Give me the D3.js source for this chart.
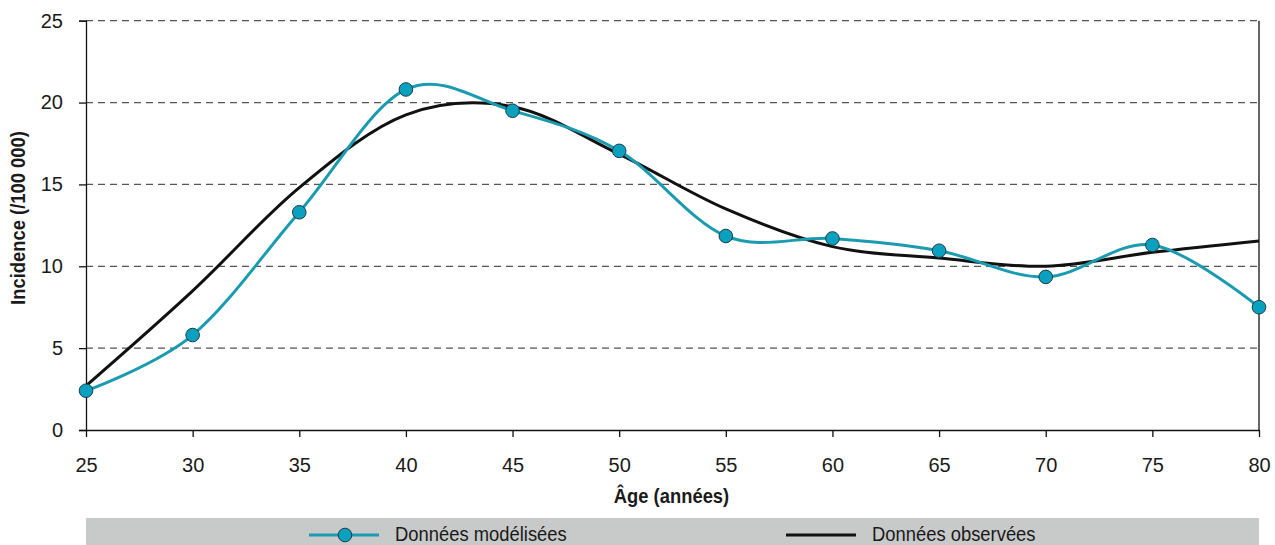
<!DOCTYPE html>
<html>
<head>
<meta charset="utf-8">
<script src="https://cdn.jsdelivr.net/npm/d3@7"></script>
<style>
  html, body { margin: 0; padding: 0; background: #fff; }
  svg { display: block; }
  text { font-family: "Liberation Sans Narrow", "Arial Narrow", "Liberation Sans", sans-serif; fill: #1a1a1a; }
</style>
</head>
<body>
<svg id="chart" width="1275" height="545"></svg>
<script>
// Age groups (years)
const ages = [25, 30, 35, 40, 45, 50, 55, 60, 65, 70, 75, 80];
// Incidence per 100 000: modelled series (with markers)
const modelled = [2.4, 5.8, 13.3, 20.8, 19.5, 17.05, 11.85, 11.7, 10.95, 9.35, 11.3, 7.5];
// Incidence per 100 000: observed series (plain line)
const observed = [2.7, 8.5, 14.8, 19.25, 19.75, 16.85, 13.5, 11.2, 10.5, 10.0, 10.85, 11.55];
const yTicks = [0, 5, 10, 15, 20, 25];
const xLabel = "Âge (années)";
const yLabel = "Incidence (/100 000)";
const seriesNames = ["Données modélisées", "Données observées"];

const teal = "#1a9bb0";
const markerFill = "#0aa0c0";
const squeeze = 0.92; // horizontal condensing of the label font

const svg = d3.select("#chart");
const plotLeft = 86, plotRight = 1259, plotTop = 20.7, plotBottom = 430;

const x = d3.scaleLinear().domain([25, 80]).range([plotLeft, plotRight]);
const y = d3.scaleLinear().domain([0, 25]).range([plotBottom, plotTop]);

// condensed text placed at (tx, ty)
function label(parent, tx, ty, str, opts = {}) {
  const t = parent.append("text")
    .attr("transform", `translate(${tx},${ty})${opts.rotate ? " rotate(-90)" : ""} scale(${squeeze},1)`)
    .attr("text-anchor", opts.anchor || "start")
    .style("font-size", "20px")
    .text(str);
  if (opts.bold) t.style("font-weight", "bold");
  return t;
}

// dashed horizontal gridlines
svg.append("g").selectAll("line")
  .data(yTicks.filter(d => d > 0))
  .join("line")
  .attr("x1", plotLeft).attr("x2", plotRight)
  .attr("y1", d => y(d)).attr("y2", d => y(d))
  .attr("stroke", "#555").attr("stroke-width", 1.3)
  .attr("stroke-dasharray", "7,5");

// right frame line
svg.append("line")
  .attr("x1", plotRight).attr("x2", plotRight)
  .attr("y1", y(25)).attr("y2", plotBottom)
  .attr("stroke", "#111").attr("stroke-width", 1.3);

// y axis
const yAxis = svg.append("g")
  .attr("transform", `translate(${plotLeft},0)`)
  .call(d3.axisLeft(y).tickValues(yTicks).tickSize(7).tickPadding(16));
yAxis.select(".domain").attr("stroke", "#111").attr("stroke-width", 1.3);
yAxis.selectAll(".tick line").attr("stroke", "#111").attr("stroke-width", 1.3);
yAxis.selectAll(".tick text")
  .style("font-size", "20px").attr("fill", "#1a1a1a");

// x axis
const xAxis = svg.append("g")
  .attr("transform", `translate(0,${plotBottom})`)
  .call(d3.axisBottom(x).tickValues(ages).tickSize(7).tickSizeOuter(0));
xAxis.select(".domain").attr("stroke", "#111").attr("stroke-width", 1.3);
xAxis.selectAll(".tick line").attr("stroke", "#111").attr("stroke-width", 1.3);
xAxis.selectAll(".tick text")
  .attr("y", 42).attr("dy", 0)
  .style("font-size", "20px").attr("fill", "#1a1a1a");

// axis titles
label(svg, (plotLeft + plotRight) / 2 - 1, 503, xLabel, { anchor: "middle", bold: true });
label(svg, 25, 218, yLabel, { anchor: "middle", bold: true, rotate: true });

// smoothed lines
const line = d3.line().curve(d3.curveCardinal.tension(0));

svg.append("path")
  .attr("d", line(ages.map((a, i) => [x(a), y(observed[i])])))
  .attr("fill", "none").attr("stroke", "#111").attr("stroke-width", 3);

svg.append("path")
  .attr("d", line(ages.map((a, i) => [x(a), y(modelled[i])])))
  .attr("fill", "none").attr("stroke", teal).attr("stroke-width", 3);

svg.append("g").selectAll("circle")
  .data(ages.map((a, i) => [a, modelled[i]]))
  .join("circle")
  .attr("cx", d => x(d[0])).attr("cy", d => y(d[1]))
  .attr("r", 6.8)
  .attr("fill", markerFill).attr("stroke", "#1d3b44").attr("stroke-width", 1);

// legend band
const leg = svg.append("g");
leg.append("rect")
  .attr("x", plotLeft).attr("y", 518).attr("width", plotRight - plotLeft).attr("height", 27)
  .attr("fill", "#c8c9c9");

const legY = 535;
leg.append("line")
  .attr("x1", 309).attr("x2", 379).attr("y1", legY).attr("y2", legY)
  .attr("stroke", teal).attr("stroke-width", 3);
leg.append("circle")
  .attr("cx", 345).attr("cy", legY).attr("r", 6.8)
  .attr("fill", markerFill).attr("stroke", "#1d3b44").attr("stroke-width", 1);
label(leg, 395, 541, seriesNames[0]);

leg.append("line")
  .attr("x1", 786).attr("x2", 856).attr("y1", legY).attr("y2", legY)
  .attr("stroke", "#111").attr("stroke-width", 3);
label(leg, 872, 541, seriesNames[1]);
</script>
</body>
</html>
